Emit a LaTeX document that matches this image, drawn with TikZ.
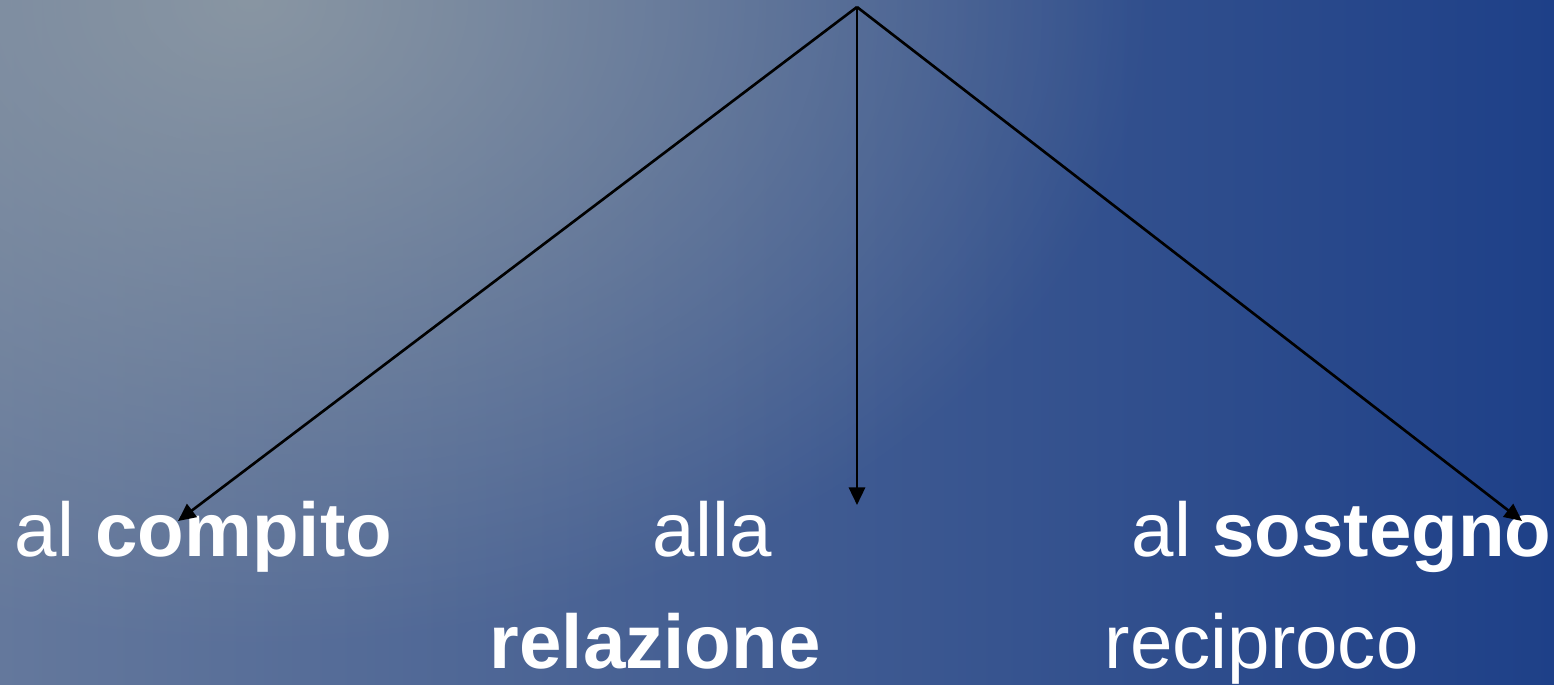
\documentclass[tikz,border=0pt]{standalone}
\usepackage{fontspec}
\setmainfont{Liberation Sans}
\usetikzlibrary{arrows.meta,fadings}

\definecolor{bgleft}{RGB}{100,120,156}
\definecolor{bgmid}{RGB}{80,105,148}
\definecolor{bgright}{RGB}{30,64,136}
\definecolor{bgglow}{RGB}{142,154,164}
\tikzfading[name=glow, inner color=transparent!0, outer color=transparent!100]

\tikzset{
    lbl/.style={anchor=base west, inner sep=0pt, text=white,
        font=\fontsize{21.7}{26}\selectfont},
    link/.style={draw=black, line width=0.75pt,
        -{Triangle[length=5pt,width=4.6pt]}}
}

\begin{document}
\begin{tikzpicture}[x=0.01cm,y=-0.01cm]
    \useasboundingbox (0,0) rectangle (1554,684);
    \shade[left color=bgleft, middle color=bgmid, right color=bgright]
        (0,0) rectangle (1554,684);
    \begin{scope}
        \clip (0,0) rectangle (1554,684);
        \fill[bgglow, path fading=glow, fill opacity=0.9]
            (250,0) ellipse [x radius=900, y radius=650];
    \end{scope}

    \coordinate (top) at (857,7);
    \node[lbl] (compito) at (14,556) {al \textbf{compito}};
    \node[lbl] (alla) at (652,556) {alla};
    \node[lbl] (relazione) at (489,668) {\textbf{relazione}};
    \node[lbl] (sostegno) at (1131,556) {al \textbf{sostegno}};
    \node[lbl] (reciproco) at (1104,668) {reciproco};

    \coordinate (toCompito) at (178,521);
    \coordinate (toRelazione) at (857,505);
    \coordinate (toSostegno) at (1522,521);

    \draw[link] (top) -- (toCompito);
    \draw[link] (top) -- (toRelazione);
    \draw[link] (top) -- (toSostegno);
\end{tikzpicture}
\end{document}
